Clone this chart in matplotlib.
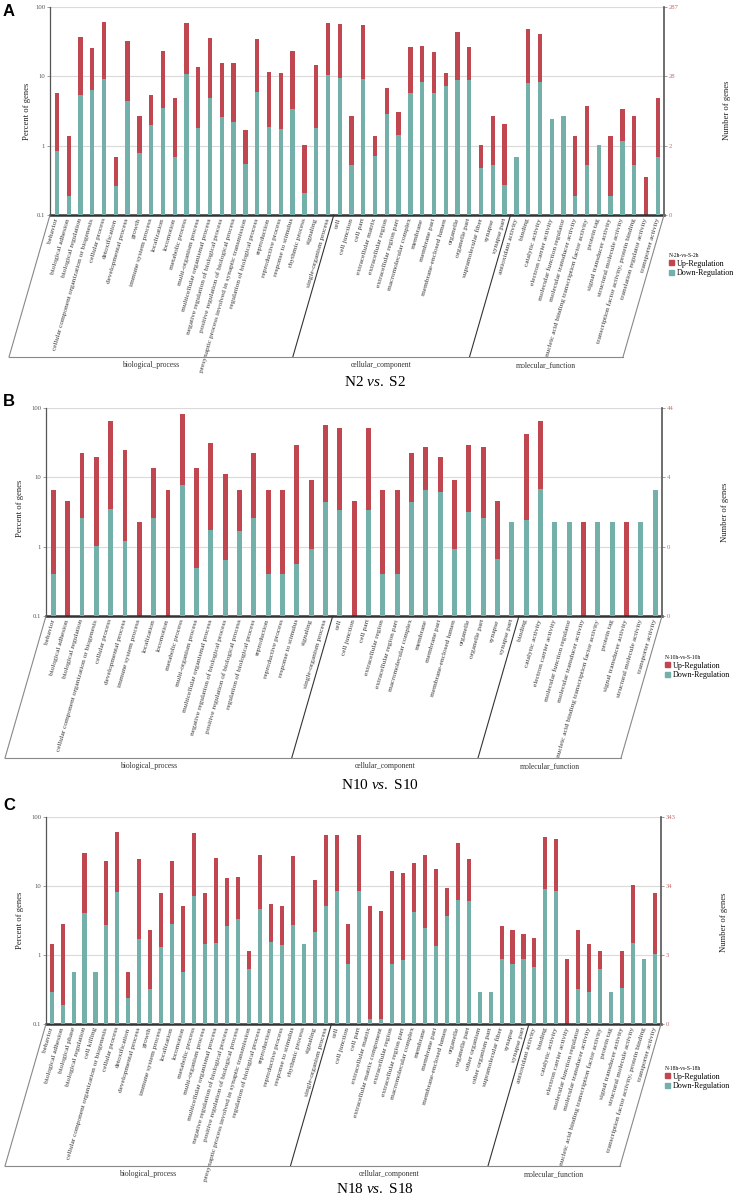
import numpy as np
import matplotlib
matplotlib.use("Agg")
import matplotlib.pyplot as plt
from matplotlib.lines import Line2D
from matplotlib.patches import Patch
from matplotlib.ticker import NullLocator

plt.rcParams.update({
    "font.family": ["Liberation Serif", "DejaVu Serif"],
    "mathtext.fontset": "custom",
    "mathtext.rm": "Liberation Serif",
    "mathtext.it": "Liberation Serif:italic",
})

RED = "#c0464f"
TEAL = "#74b0aa"
W, H = 734, 1198

# ---- panel A: N2 vs S2 ----
BP_A = ["behavior", "biological adhesion", "biological regulation",
        "cellular component organization or biogenesis", "cellular process",
        "detoxification", "developmental process", "growth", "immune system process",
        "localization", "locomotion", "metabolic process", "multi-organism process",
        "multicellular organismal process", "negative regulation of biological process",
        "positive regulation of biological process",
        "presynaptic process involved in synaptic transmission",
        "regulation of biological process", "reproduction", "reproductive process",
        "response to stimulus", "rhythmic process", "signaling", "single-organism process"]
CC_A = ["cell", "cell junction", "cell part", "extracellular matrix", "extracellular region",
        "extracellular region part", "macromolecular complex", "membrane", "membrane part",
        "membrane-enclosed lumen", "organelle", "organelle part", "supramolecular fiber",
        "synapse", "synapse part"]
MF_A = ["antioxidant activity", "binding", "catalytic activity", "electron carrier activity",
        "molecular function regulator", "molecular transducer activity",
        "nucleic acid binding transcription factor activity", "protein tag",
        "signal transducer activity", "structural molecule activity",
        "transcription factor activity, protein binding", "translation regulator activity",
        "transporter activity"]
UP_A = [5.8, 1.36, 36.9, 25.9, 60, 0.69, 32.3, 2.7, 5.4, 23, 4.8, 58.8, 13.8, 35.3, 15.7,
        15.7, 1.7, 34.2, 11.5, 11.2, 23, 1.03, 14.7, 58.8,
        56.9, 2.7, 55.6, 1.36, 6.8, 3.1, 26.8, 27.7, 22.2, 11.2, 44, 26.8, 1.03, 2.7, 2.05,
        0, 48.7, 40.8, 0, 0, 1.36, 3.7, 0, 1.36, 3.4, 2.7, 0.35, 4.8]
DOWN_A = [0.84, 0.19, 5.4, 6.4, 9.2, 0.26, 4.4, 0.78, 2.0, 3.5, 0.69, 10.7, 1.8, 4.8, 2.56,
          2.2, 0.55, 5.9, 1.86, 1.76, 3.4, 0.21, 1.8, 10.3,
          9.6, 0.52, 9.2, 0.71, 2.9, 1.43, 5.8, 8.2, 5.8, 7.3, 9.0, 8.8, 0.48, 0.52, 0.27,
          0.69, 7.9, 8.2, 2.4, 2.7, 0.19, 0.52, 1.03, 0.19, 1.17, 0.52, 0, 0.69]
RIGHT_A = ["0", "2", "28", "287"]

# ---- panel B: N10 vs S10 ----
BP_B = ["behavior", "biological adhesion", "biological regulation",
        "cellular component organization or biogenesis", "cellular process",
        "developmental process", "immune system process", "localization", "locomotion",
        "metabolic process", "multi-organism process", "multicellular organismal process",
        "negative regulation of biological process",
        "positive regulation of biological process", "regulation of biological process",
        "reproduction", "reproductive process", "response to stimulus", "signaling",
        "single-organism process"]
CC_B = ["cell", "cell junction", "cell part", "extracellular region",
        "extracellular region part", "macromolecular complex", "membrane", "membrane part",
        "membrane-enclosed lumen", "organelle", "organelle part", "synapse", "synapse part"]
MF_B = ["binding", "catalytic activity", "electron carrier activity",
        "molecular function regulator", "molecular transducer activity",
        "nucleic acid binding transcription factor activity", "protein tag",
        "signal transducer activity", "structural molecule activity", "transporter activity"]
UP_B = [6.6, 4.5, 22.7, 19.9, 65.7, 24.8, 2.27, 13.6, 6.6, 81.9, 13.6, 31.6, 11.3, 6.6,
        22.7, 6.6, 6.6, 29, 9.06, 56,
        50.9, 4.5, 50.9, 6.6, 6.6, 22.7, 27.1, 19.9, 9.06, 29, 27.1, 4.5, 2.3,
        42.6, 65.7, 2.3, 2.3, 2.27, 2.3, 2.3, 2.27, 2.3, 0]
DOWN_B = [0.40, 0, 2.6, 1.03, 3.5, 1.2, 0, 2.6, 0, 7.7, 0.50, 1.74, 0.64, 1.66, 2.6,
          0.40, 0.40, 0.57, 0.94, 4.4,
          3.4, 0, 3.4, 0.40, 0.40, 4.4, 6.6, 6.1, 0.94, 3.2, 2.6, 0.66, 2.25,
          2.4, 6.9, 2.25, 2.25, 0, 2.25, 2.25, 0, 2.25, 6.6]
RIGHT_B = ["0", "0", "4", "44"]

# ---- panel C: N18 vs S18 ----
BP_C = ["behavior", "biological adhesion", "biological phase", "biological regulation",
        "cell killing", "cellular component organization or biogenesis", "cellular process",
        "detoxification", "developmental process", "growth", "immune system process",
        "localization", "locomotion", "metabolic process", "multi-organism process",
        "multicellular organismal process", "negative regulation of biological process",
        "positive regulation of biological process",
        "presynaptic process involved in synaptic transmission",
        "regulation of biological process", "reproduction", "reproductive process",
        "response to stimulus", "rhythmic process", "signaling", "single-organism process"]
CC_C = ["cell", "cell junction", "cell part", "extracellular matrix",
        "extracellular matrix component", "extracellular region", "extracellular region part",
        "macromolecular complex", "membrane", "membrane part", "membrane-enclosed lumen",
        "organelle", "organelle part", "other organism", "other organism part",
        "supramolecular fiber", "synapse", "synapse part"]
MF_C = ["antioxidant activity", "binding", "catalytic activity", "electron carrier activity",
        "molecular function regulator", "molecular transducer activity",
        "nucleic acid binding transcription factor activity", "protein tag",
        "signal transducer activity", "structural molecule activity",
        "transcription factor activity, protein binding", "transporter activity"]
UP_C = [1.43, 2.86, 0, 30.3, 0, 23, 60, 0.575, 24.3, 2.27, 7.8, 23.4, 5.2, 58.8, 8.0, 25.1,
        12.9, 13.3, 1.14, 27.7, 5.56, 5.2, 26.8, 0, 12.2, 55,
        55, 2.86, 55, 5.2, 4.3, 16.3, 15.2, 21.5, 27.7, 17.4, 9.5, 41.7, 24.3, 0, 0, 2.62,
        2.3, 2.03,
        1.74, 51.5, 48.2, 0.87, 2.3, 1.44, 1.14, 0, 1.14, 10.5, 0, 8.0]
DOWN_C = [0.29, 0.19, 0.575, 4.1, 0.575, 2.7, 8.3, 0.24, 1.7, 0.32, 1.3, 2.77, 0.575, 7.2,
          1.43, 1.49, 2.59, 3.3, 0.63, 4.7, 1.52, 1.39, 2.7, 1.43, 2.12, 5.15,
          8.5, 0.74, 8.5, 0.12, 0.12, 0.74, 0.84, 4.2, 2.45, 1.35, 3.7, 6.3, 6.1, 0.29, 0.29,
          0.875, 0.73, 0.875,
          0.68, 8.96, 8.4, 0, 0.32, 0.29, 0.63, 0.29, 0.33, 1.49, 0.875, 1.05]
RIGHT_C = ["0", "3", "34", "343"]

GROUPS = ["biological_process", "cellular_component", "molecular_function"]
LEFT_TICKS = ["0.1", "1", "10", "100"]

PANELS = [
    dict(letter="A", groups=(BP_A, CC_A, MF_A), up=UP_A, down=DOWN_A, right=RIGHT_A,
         leg="N-2h-vs-S-2h", title=r"N2 $\mathit{vs.}$ S2",
         rect=(50, 7, 664, 215), pad=(0.59, 0.53), bw=0.37, letter_y=12,
         ylab_l=(27, 111), ylab_r=(727, 110), title_xy=(375, 382), leg_xy=(669, 253)),
    dict(letter="B", groups=(BP_B, CC_B, MF_B), up=UP_B, down=DOWN_B, right=RIGHT_B,
         leg="N-10h-vs-S-10h", title=r"N10 $\mathit{vs.}$ S10",
         rect=(46, 408, 662, 616), pad=(0.51, 0.48), bw=0.34, letter_y=402,
         ylab_l=(20, 508), ylab_r=(725, 512), title_xy=(380, 785), leg_xy=(665, 655)),
    dict(letter="C", groups=(BP_C, CC_C, MF_C), up=UP_C, down=DOWN_C, right=RIGHT_C,
         leg="N-18h-vs-S-18h", title=r"N18 $\mathit{vs.}$ S18",
         rect=(46, 817, 661, 1024), pad=(0.51, 0.53), bw=0.37, letter_y=805,
         ylab_l=(20, 920), ylab_r=(724, 922), title_xy=(375, 1189), leg_xy=(665, 1066)),
]


def fx(px):
    return px / W


def fy(py):
    return 1 - py / H


def draw_panel(fig, p):
    names = p["groups"][0] + p["groups"][1] + p["groups"][2]
    n = len(names)
    l, t, r, b = p["rect"]
    ax = fig.add_axes([fx(l), fy(b), (r - l) / W, (b - t) / H])
    x = np.arange(n)
    ax.bar(x, p["up"], width=p["bw"], color=RED, zorder=2)
    ax.bar(x, p["down"], width=p["bw"], color=TEAL, zorder=3)

    ax.set_yscale("log")
    ax.set_ylim(0.1, 100)
    ax.set_xlim(-p["pad"][0], n - 1 + p["pad"][1])
    ax.set_yticks([0.1, 1, 10, 100])
    ax.set_yticklabels(LEFT_TICKS)
    ax.yaxis.set_minor_locator(NullLocator())
    ax.yaxis.grid(True, color="#dadada", lw=0.8)
    ax.set_axisbelow(True)
    ax.tick_params(axis="y", length=2, width=0.5, color="#777", labelsize=4.8,
                   labelcolor="#555", pad=1.5)
    ax.set_xticks(x)
    ax.set_xticklabels(names, rotation=74, ha="right", va="center",
                       rotation_mode="anchor", fontsize=5.3, color="#3a3a3a")
    ax.tick_params(axis="x", length=0, pad=2.5)
    for s in ("top", "right"):
        ax.spines[s].set_visible(False)
    ax.spines["bottom"].set_color("#333")
    ax.spines["bottom"].set_linewidth(1.8)
    ax.spines["left"].set_color("#555")
    ax.spines["left"].set_linewidth(0.9)

    ax2 = ax.twinx()
    ax2.set_yscale("log")
    ax2.set_ylim(0.1, 100)
    ax2.set_yticks([0.1, 1, 10, 100])
    ax2.set_yticklabels(p["right"])
    ax2.yaxis.set_minor_locator(NullLocator())
    ax2.tick_params(axis="y", length=2, width=0.5, color="#777", labelsize=4.8,
                    labelcolor="#c56b6b", pad=1.5)
    for s in ("top", "left", "bottom"):
        ax2.spines[s].set_visible(False)
    ax2.spines["right"].set_color("#555")
    ax2.spines["right"].set_linewidth(1.2)

    # slanted category brackets
    inv = fig.transFigure.inverted()
    n1 = len(p["groups"][0])
    n2 = n1 + len(p["groups"][1])
    bounds = [ax.get_xlim()[0], n1 - 0.5, n2 - 0.5, ax.get_xlim()[1]]
    dx, dy = -41 / W, -142 / H
    bottoms = []
    for i, xb in enumerate(bounds):
        x0, y0 = inv.transform(ax.transData.transform((xb, 0.1)))
        x1, y1 = x0 + dx, y0 + dy
        col = "#888" if i in (0, 3) else "#333"
        fig.add_artist(Line2D([x0, x1], [y0, y1], transform=fig.transFigure,
                              color=col, lw=0.8))
        bottoms.append((x1, y1))
    fig.add_artist(Line2D([bottoms[0][0], bottoms[-1][0]], [bottoms[0][1]] * 2,
                          transform=fig.transFigure, color="#888", lw=0.8))
    for i, g in enumerate(GROUPS):
        xm = (bottoms[i][0] + bottoms[i + 1][0]) / 2
        fig.text(xm, bottoms[i][1] - 8 / H, g, ha="center", va="center",
                 fontsize=5.5, color="#333")

    fig.text(fx(p["ylab_l"][0]), fy(p["ylab_l"][1]), "Percent of genes", rotation=90,
             ha="center", va="center", fontsize=6.2, color="#222")
    fig.text(fx(p["ylab_r"][0]), fy(p["ylab_r"][1]), "Number of genes", rotation=90,
             ha="center", va="center", fontsize=6.2, color="#222")
    fig.text(fx(3), fy(p["letter_y"]), p["letter"], ha="left", va="center",
             fontsize=12, fontweight="bold", family=["Liberation Sans", "DejaVu Sans"])
    fig.text(fx(p["title_xy"][0]), fy(p["title_xy"][1]), p["title"], ha="center",
             va="center", fontsize=11, color="black")

    handles = [Patch(color=RED, label="Up-Regulation"),
               Patch(color=TEAL, label="Down-Regulation")]
    fig.legend(handles=handles, title=p["leg"], loc="upper left",
               bbox_to_anchor=(fx(p["leg_xy"][0]), fy(p["leg_xy"][1])),
               frameon=False, fontsize=5.8, title_fontsize=4.0, handlelength=0.6,
               handleheight=0.6, handletextpad=0.35, labelspacing=0.2, borderpad=0,
               borderaxespad=0, alignment="left")


fig = plt.figure(figsize=(W / 100, H / 100), dpi=100)
for panel in PANELS:
    draw_panel(fig, panel)
fig.savefig("out.png", dpi=100, facecolor="white")
